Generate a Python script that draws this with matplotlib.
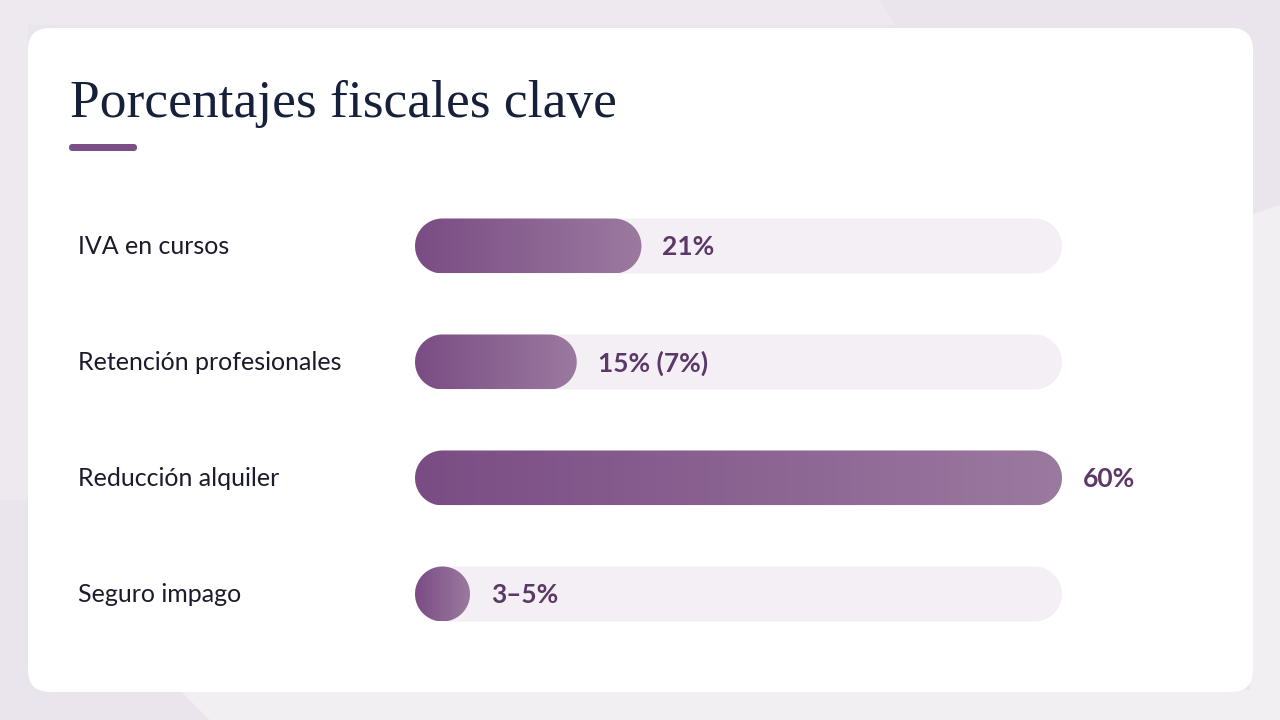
import numpy as np
import matplotlib
matplotlib.use('Agg')
import matplotlib.pyplot as plt
from matplotlib.patches import FancyBboxPatch, Polygon
from matplotlib.colors import LinearSegmentedColormap
import matplotlib.transforms as mtransforms

# data
categories = ['IVA en cursos', 'Retención profesionales', 'Reducción alquiler', 'Seguro impago']
values = [21, 15, 60, 5]
value_labels = ['21%', '15% (7%)', '60%', '3–5%']
max_value = 60

title = 'Porcentajes fiscales clave'

BG = '#eae5ec'
BG_LIGHT = '#f2eff3'
TRACK = '#f4eff5'
TITLE_C = '#17203a'
LABEL_C = '#1b1b2b'
VALUE_C = '#5b3867'
ACCENT = '#7b4f87'
grad = LinearSegmentedColormap.from_list('g', ['#7a4c84', '#9b7a9f'])

W, H = 1280, 720
fig = plt.figure(figsize=(12.8, 7.2), dpi=100)
fig.patch.set_facecolor(BG)

# background + card (pixel coordinates)
bg = fig.add_axes([0, 0, 1, 1])
bg.set_xlim(0, W)
bg.set_ylim(H, 0)
bg.axis('off')
bg.add_patch(Polygon([(0, 0), (880, 0), (895, 25), (28, 25), (28, 500), (0, 500)],
                     closed=True, fc='#eee9ef', ec='none'))
bg.add_patch(Polygon([(210, 720), (180, 690), (1280, 690), (1280, 720)], closed=True,
                     fc=BG_LIGHT, ec='none'))
bg.add_patch(Polygon([(1250, 215), (1280, 205), (1280, 720), (1250, 720)], closed=True,
                     fc=BG_LIGHT, ec='none'))
bg.add_patch(FancyBboxPatch((28, 28), 1225, 664, boxstyle='round,pad=0,rounding_size=22',
                            fc='white', ec='none'))
bg.text(70, 117, title, fontsize=38.5, family='Liberation Serif', color=TITLE_C,
        va='baseline', ha='left')
bg.add_patch(FancyBboxPatch((69, 144), 68, 7, boxstyle='round,pad=0,rounding_size=3.5',
                            fc=ACCENT, ec='none'))

# bars axes
x0, x1 = 415, 1062
y_top, y_bot = 188, 652
ax = fig.add_axes([x0 / W, 1 - y_bot / H, (x1 - x0) / W, (y_bot - y_top) / H])
ax.set_xlim(0, max_value)
ax.set_ylim(len(categories) - 0.5, -0.5)
ax.axis('off')

px_x = (x1 - x0) / max_value
px_y = (y_bot - y_top) / len(categories)
bar_h = 55 / px_y
rx = 27.5 / px_x      # cap radius in value units
ry = bar_h / 2


def pill(left, width, yc, **kw):
    width = max(width, 2 * rx)
    t1 = np.linspace(np.pi / 2, 3 * np.pi / 2, 40)
    t2 = np.linspace(-np.pi / 2, np.pi / 2, 40)
    xs = np.concatenate([left + rx + rx * np.cos(t1),
                         left + width - rx + rx * np.cos(t2)])
    ys = np.concatenate([yc + ry * np.sin(t1), yc + ry * np.sin(t2)])
    return Polygon(np.column_stack([xs, ys]), closed=True, **kw), width


lab_tr = mtransforms.blended_transform_factory(fig.transFigure, ax.transData)

for i, (cat, v, lab) in enumerate(zip(categories, values, value_labels)):
    track, _ = pill(0, max_value, i, fc=TRACK, ec='none', zorder=1)
    ax.add_patch(track)
    bar, w = pill(0, v, i, fc='none', ec='none', zorder=2)
    ax.add_patch(bar)
    im = ax.imshow(np.linspace(0, 1, 256).reshape(1, -1), cmap=grad, aspect='auto',
                   extent=(0, w, i + ry, i - ry), interpolation='bilinear', zorder=3)
    im.set_clip_path(bar)
    ax.annotate(lab, (w, i), xytext=(15, -1), textcoords='offset points',
                ha='left', va='center', fontsize=19, fontweight='bold',
                family='Lato', color=VALUE_C)
    ax.text(78 / W, i, cat, transform=lab_tr, ha='left', va='center',
            fontsize=18, family='Lato', color=LABEL_C)

ax.set_xlim(0, max_value)
ax.set_ylim(len(categories) - 0.5, -0.5)

fig.savefig('out.png', dpi=100, facecolor=fig.get_facecolor())
